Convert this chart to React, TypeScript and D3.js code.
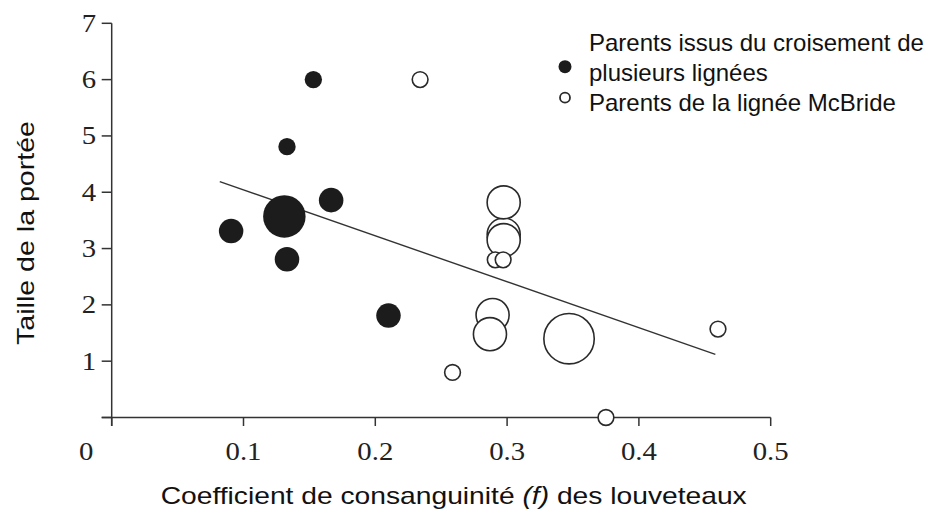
import React from "react";
import * as d3 from "d3";

// ---- data ----
const xTicks = [0, 0.1, 0.2, 0.3, 0.4, 0.5];
const xTickLabels = ["0", "0.1", "0.2", "0.3", "0.4", "0.5"];
const yTicks = [0, 1, 2, 3, 4, 5, 6, 7];
const yTickLabels = ["", "1", "2", "3", "4", "5", "6", "7"];

// Parents issus du croisement de plusieurs lignées (filled)
const crossF = [0.153, 0.133, 0.0906, 0.131, 0.1665, 0.133, 0.21];
const crossLitter = [6.0, 4.81, 3.31, 3.57, 3.86, 2.81, 1.81];
const crossN = [1, 1, 2, 6, 2, 2, 2];

// Parents de la lignée McBride (open)
const mcbF = [0.234, 0.2974, 0.2974, 0.2974, 0.291, 0.297, 0.289, 0.287, 0.347, 0.2586, 0.46, 0.375];
const mcbLitter = [6.0, 3.25, 3.82, 3.15, 2.8, 2.8, 1.82, 1.48, 1.4, 0.8, 1.57, 0.0];
const mcbN = [1, 4, 4, 4, 1, 1, 4, 4, 9, 1, 1, 1];

// regression line end points
const trendF = [0.082, 0.458];
const trendLitter = [4.19, 1.12];

const legendLines = [["Parents issus du croisement de", "plusieurs lignées"], ["Parents de la lignée McBride"]];
const xTitleParts = ["Coefficient de consanguinité ", "(f)", " des louveteaux"];
const yTitle = "Taille de la portée";

// ---- layout ----
const W = 932;
const H = 514;
const X0 = 111.7;
const X1 = 770.7;
const Y0 = 417.5;
const Y1 = 23.3;

export default function App() {
  const x = d3.scaleLinear().domain([0, 0.5]).range([X0, X1]);
  const y = d3.scaleLinear().domain([0, 7]).range([Y0, Y1]);
  const r = d3.scaleSqrt().domain([0, 9]).range([0, 26]);

  const cross = crossF.map((f, i) => ({ f, l: crossLitter[i], n: crossN[i] }));
  const mcb = mcbF.map((f, i) => ({ f, l: mcbLitter[i], n: mcbN[i] }));
  const trend = trendF.map((f, i) => [f, trendLitter[i]] as [number, number]);
  const line = d3
    .line<[number, number]>()
    .x((d) => x(d[0]))
    .y((d) => y(d[1]));

  const axisColor = "#333";
  const serif = "'Liberation Serif', 'Times New Roman', serif";
  const sans = "'Liberation Sans', Arial, sans-serif";
  const sx = 1.15;

  return (
    <svg
      width={W}
      height={H}
      viewBox={`0 0 ${W} ${H}`}
      style={{ position: "absolute", left: 0, top: 0, background: "#fff" }}
    >
      <rect x={0} y={0} width={W} height={H} fill="#fff" />
      {/* y axis */}
      <line x1={x(0)} x2={x(0)} y1={y(7)} y2={Y0 + 8.5} stroke={axisColor} strokeWidth={1.5} />
      {yTicks.map((t, i) => (
        <g key={"yt" + i}>
          <line x1={x(0) - 10} x2={x(0)} y1={y(t)} y2={y(t)} stroke={axisColor} strokeWidth={1.5} />
          {yTickLabels[i] && (
            <text
              transform={`translate(${x(0) - 15.5},${y(t) + 8.4}) scale(${sx},1)`}
              textAnchor="end"
              fontFamily={serif}
              fontSize={25}
              fill="#222"
            >
              {yTickLabels[i]}
            </text>
          )}
        </g>
      ))}
      {/* x axis */}
      <line x1={x(0) - 10} x2={x(0.5)} y1={Y0} y2={Y0} stroke={axisColor} strokeWidth={1.5} />
      {xTicks.map((t, i) => (
        <g key={"xt" + i}>
          <line x1={x(t)} x2={x(t)} y1={Y0} y2={Y0 + 8.5} stroke={axisColor} strokeWidth={1.5} />
          <text
            transform={`translate(${t === 0 ? x(t) - 25.5 : x(t)},459.5) scale(${sx},1)`}
            textAnchor="middle"
            fontFamily={serif}
            fontSize={25}
            fill="#222"
          >
            {xTickLabels[i]}
          </text>
        </g>
      ))}

      {/* regression line */}
      <path d={line(trend) || ""} fill="none" stroke="#333" strokeWidth={1.4} />

      {/* points */}
      {cross.map((d, i) => (
        <circle key={"c" + i} cx={x(d.f)} cy={y(d.l)} r={r(d.n)} fill="#1c1c1c" />
      ))}
      {mcb.map((d, i) => (
        <circle
          key={"m" + i}
          cx={x(d.f)}
          cy={y(d.l)}
          r={r(d.n) - 0.8}
          fill="#fff"
          stroke="#2a2a2a"
          strokeWidth={1.6}
        />
      ))}

      {/* legend */}
      <circle cx={565} cy={66.7} r={6.5} fill="#1c1c1c" />
      <circle cx={565} cy={97.7} r={5} fill="#fff" stroke="#2a2a2a" strokeWidth={1.8} />
      <text x={589} y={51} fontFamily={sans} fontSize={24} fill="#111">
        {legendLines[0][0]}
      </text>
      <text x={589} y={80.5} fontFamily={sans} fontSize={24} fill="#111">
        {legendLines[0][1]}
      </text>
      <text x={589} y={111} fontFamily={sans} fontSize={24} fill="#111">
        {legendLines[1][0]}
      </text>

      {/* axis titles */}
      <text
        x={160.7}
        y={504.3}
        fontFamily={sans}
        fontSize={24}
        fill="#111"
        textLength={586}
        lengthAdjust="spacingAndGlyphs"
      >
        {xTitleParts[0]}
        <tspan fontStyle="italic">{xTitleParts[1]}</tspan>
        {xTitleParts[2]}
      </text>
      <text
        transform={`translate(34,345) rotate(-90)`}
        x={0}
        y={0}
        fontFamily={sans}
        fontSize={24}
        fill="#111"
        textLength={224}
        lengthAdjust="spacingAndGlyphs"
      >
        {yTitle}
      </text>
    </svg>
  );
}
